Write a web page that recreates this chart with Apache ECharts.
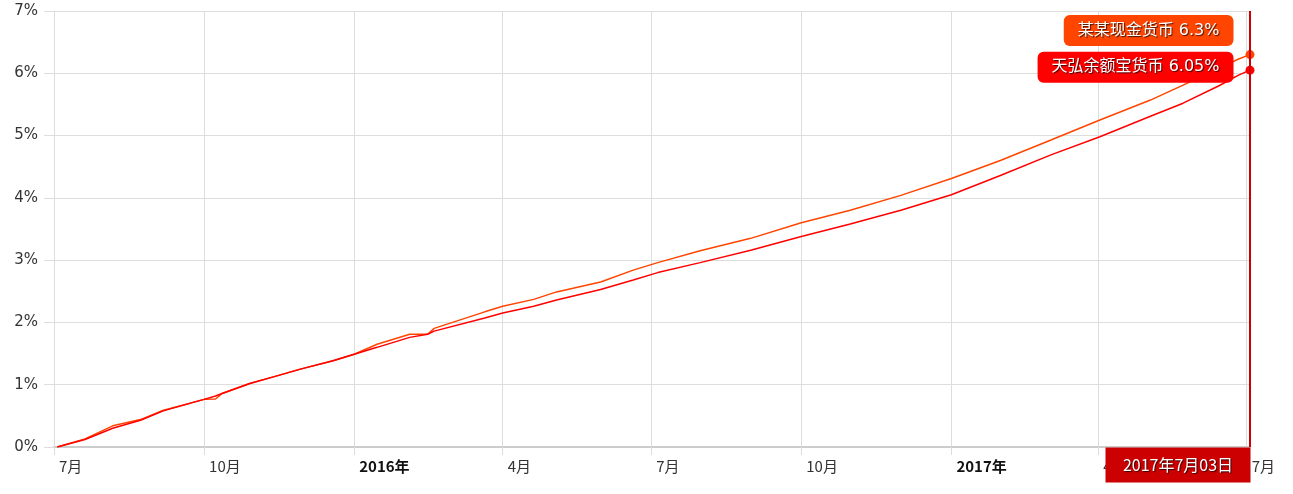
<!DOCTYPE html>
<html>
<head>
<meta charset="utf-8">
<script src="https://cdn.jsdelivr.net/npm/echarts@6/dist/echarts.min.js"></script>
<style>
html,body{margin:0;padding:0;background:#fff;}
#chart{width:1293px;height:494px;}
</style>
</head>
<body>
<div id="chart"></div>
<script>
// ---- data ----
const seriesNames = ['某某现金货币', '天弘余额宝货币'];
const dates = ['2015-07-03','2015-07-20','2015-08-06','2015-08-23','2015-09-06','2015-09-22','2015-10-01','2015-10-08','2015-10-12','2015-10-29','2015-11-13','2015-11-29','2015-12-19','2016-01-01','2016-01-15','2016-02-04','2016-02-15','2016-02-19','2016-03-21','2016-04-01','2016-04-20','2016-05-04','2016-05-31','2016-06-20','2016-07-05','2016-07-31','2016-08-31','2016-10-01','2016-10-31','2016-12-01','2017-01-01','2017-01-31','2017-03-03','2017-04-02','2017-05-03','2017-05-23','2017-06-14','2017-06-26','2017-07-03'];
const cashValues = [0, 0.13, 0.34, 0.44, 0.59, 0.70, 0.765, 0.77, 0.86, 1.02, 1.13, 1.25, 1.385, 1.49, 1.65, 1.81, 1.81, 1.905, 2.17, 2.26, 2.37, 2.49, 2.65, 2.84, 2.96, 3.15, 3.35, 3.60, 3.80, 4.04, 4.31, 4.60, 4.93, 5.25, 5.57, 5.81, 6.08, 6.23, 6.30];
const yebValues  = [0, 0.12, 0.30, 0.43, 0.58, 0.70, 0.765, 0.82, 0.86, 1.02, 1.13, 1.25, 1.385, 1.49, 1.60, 1.76, 1.81, 1.86, 2.07, 2.15, 2.26, 2.36, 2.53, 2.68, 2.80, 2.96, 3.16, 3.38, 3.58, 3.80, 4.05, 4.36, 4.69, 4.98, 5.31, 5.52, 5.80, 5.97, 6.05];
const yTicks = [0, 1, 2, 3, 4, 5, 6, 7];
const xMin = '2015-07-01';
const xMax = '2017-07-03';

const colors = ['#FF4500', '#FF0000'];
const lastDate = dates[dates.length - 1];
const lp = lastDate.split('-');
const lastDateText = lp[0] + '年' + parseInt(lp[1], 10) + '月' + lp[2] + '日';

const FONT = "'DejaVu Sans', 'Noto Sans CJK SC', sans-serif";
const CJK = "'Noto Sans CJK SC', sans-serif";

function buildData(vals, name, color, offY) {
  return dates.map((d, i) => {
    if (i < dates.length - 1) return [d, vals[i]];
    return {
      value: [d, vals[i]],
      symbol: 'circle',
      symbolSize: 9,
      itemStyle: { color: color },
      label: {
        show: true,
        position: 'left',
        distance: 12,
        offset: [0, offY],
        formatter: p => name + ' ' + p.value[1] + '%',
        color: '#fff',
        fontSize: 16,
        fontFamily: FONT,
        backgroundColor: color,
        borderRadius: 6,
        padding: [8, 14, 7, 14],
        textShadowColor: 'rgba(0,0,0,0.75)',
        textShadowBlur: 1,
        textShadowOffsetX: 1,
        textShadowOffsetY: 1
      }
    };
  });
}

const chart = echarts.init(document.getElementById('chart'), null, { renderer: 'canvas' });
chart.setOption({
  animation: false,
  textStyle: { fontFamily: FONT },
  grid: { left: 54, right: 43, top: 11, bottom: 47, containLabel: false },
  xAxis: {
    type: 'time',
    min: xMin,
    max: xMax,
    splitNumber: 8,
    axisLine: { show: true, lineStyle: { color: '#cccccc', width: 2 } },
    axisTick: { show: true, length: 8, lineStyle: { color: '#dddddd' } },
    splitLine: { show: true, lineStyle: { color: '#dddddd', width: 1 } },
    axisLabel: {
      showMaxLabel: false,
      showMinLabel: true,
      align: 'left',
      margin: 12,
      padding: [0, 0, 0, 5],
      color: '#333',
      fontSize: 15,
      fontFamily: CJK,
      formatter: function (v) {
        const d = new Date(v);
        const m = d.getMonth() + 1;
        if (m === 1 && d.getDate() === 1) return '{y|' + d.getFullYear() + '年}';
        return m + '月';
      },
      rich: {
        y: { fontWeight: 'bold', fontSize: 15, color: '#111', fontFamily: CJK }
      }
    }
  },
  yAxis: {
    type: 'value',
    min: yTicks[0],
    max: yTicks[yTicks.length - 1],
    interval: 1,
    axisLine: { show: true, lineStyle: { color: '#dddddd' } },
    axisTick: { show: true, length: 10, lineStyle: { color: '#dddddd' } },
    splitLine: { show: true, lineStyle: { color: '#dddddd' } },
    axisLabel: { formatter: '{value}%', color: '#333', fontSize: 15, margin: 16 }
  },
  series: [
    {
      name: seriesNames[0],
      type: 'line',
      symbol: 'none',
      showSymbol: true,
      lineStyle: { color: colors[0], width: 1.5 },
      itemStyle: { color: colors[0] },
      data: buildData(cashValues, seriesNames[0], colors[0], -24),
      z: 3
    },
    {
      name: seriesNames[1],
      type: 'line',
      symbol: 'none',
      showSymbol: true,
      lineStyle: { color: colors[1], width: 1.5 },
      itemStyle: { color: colors[1] },
      data: buildData(yebValues, seriesNames[1], colors[1], -3),
      z: 4,
      markLine: {
        silent: true,
        symbol: ['none', 'none'],
        label: { show: false },
        lineStyle: { color: '#CC0000', width: 2, type: 'solid' },
        data: [{ xAxis: lastDate }]
      },
      markPoint: {
        silent: true,
        symbol: 'rect',
        symbolSize: [145, 35],
        symbolOffset: [-72, 18],
        itemStyle: { color: '#CC0000' },
        label: {
          show: true,
          position: 'inside',
          formatter: lastDateText,
          color: '#fff',
          fontSize: 16,
          fontFamily: CJK,
          textShadowColor: 'rgba(0,0,0,0.75)',
          textShadowBlur: 1,
          textShadowOffsetX: 1,
          textShadowOffsetY: 1
        },
        data: [{ coord: [lastDate, 0] }]
      }
    }
  ]
});
</script>
</body>
</html>
